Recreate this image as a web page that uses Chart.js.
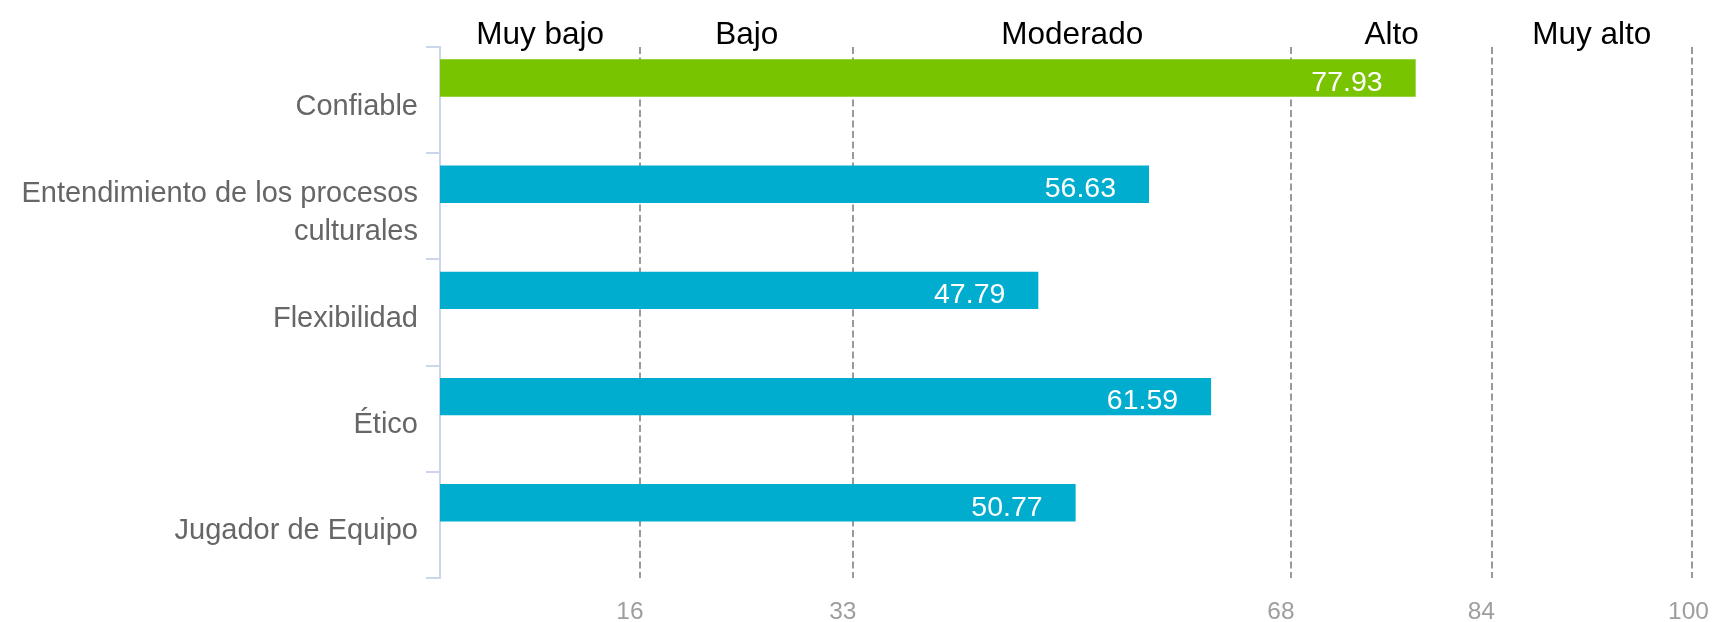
<!DOCTYPE html>
<html lang="es">
<head>
<meta charset="utf-8">
<title>Competencias</title>
<script src="https://cdn.jsdelivr.net/npm/chart.js@4"></script>
<style>
    html, body { margin: 0; padding: 0; background: #fff; overflow: hidden; }
    #wrap { width: 1719px; height: 622px; }
</style>
</head>
<body>
<div id="wrap"><canvas id="chartComp" width="1719" height="622"></canvas></div>
<script>
const CATEGORIAS = [
    'Confiable',
    ['Entendimiento de los procesos', 'culturales'],
    'Flexibilidad',
    'Ético',
    'Jugador de Equipo',
];
const PUNTAJES = [77.93, 56.63, 47.79, 61.59, 50.77];
const SERIE_VACIA = [null, null, null, null, null];

const CORTES = [0, 16, 33, 68, 84, 100];
const NIVELES = ['Muy bajo', 'Bajo', 'Moderado', 'Alto', 'Muy alto'];

const VERDE = '#79c400';
const AZUL = '#00adce';
const FONT = "'Liberation Sans', Arial, Helvetica, sans-serif";

Chart.defaults.font.family = FONT;

// centro de cada franja para los nombres de nivel
const centros = NIVELES.map((_, i) => (CORTES[i] + CORTES[i + 1]) / 2);

const etiquetasBarra = {
    id: 'etiquetasBarra',
    afterDatasetsDraw(chart) {
        const { ctx } = chart;
        const meta = chart.getDatasetMeta(0);
        ctx.save();
        ctx.fillStyle = '#ffffff';
        ctx.font = `28.5px ${FONT}`;
        ctx.textAlign = 'right';
        ctx.textBaseline = 'middle';
        meta.data.forEach((bar, i) => {
            ctx.fillText(PUNTAJES[i].toFixed(2), bar.x - 33, bar.y + 5);
        });
        ctx.restore();
    },
};

// nombres de nivel encima del area, centrados en cada franja
const nivelesArriba = {
    id: 'nivelesArriba',
    afterDraw(chart) {
        const { ctx, chartArea } = chart;
        const x = chart.scales.x;
        ctx.save();
        ctx.fillStyle = '#000000';
        ctx.font = `31.5px ${FONT}`;
        ctx.textAlign = 'center';
        ctx.textBaseline = 'alphabetic';
        NIVELES.forEach((n, i) => {
            ctx.fillText(n, x.getPixelForValue(centros[i]), chartArea.top - 3);
        });
        ctx.restore();
    },
};

new Chart(document.getElementById('chartComp'), {
    type: 'bar',
    data: {
        labels: CATEGORIAS,
        datasets: [
            {
                data: PUNTAJES,
                backgroundColor: PUNTAJES.map((_, i) => i === 0 ? VERDE : AZUL),
                borderWidth: 0,
                categoryPercentage: 0.832,
                barPercentage: 0.846,
            },
            {
                data: SERIE_VACIA,
                backgroundColor: AZUL,
                categoryPercentage: 0.832,
                barPercentage: 0.846,
            },
        ],
    },
    options: {
        indexAxis: 'y',
        responsive: false,
        animation: false,
        layout: { padding: { top: 47, right: 27, bottom: 0, left: 0 } },
        plugins: { legend: { display: false }, tooltip: { enabled: false } },
        scales: {
            x: {
                type: 'linear',
                position: 'bottom',
                min: 0,
                max: 100,
                afterBuildTicks: axis => { axis.ticks = CORTES.slice(1).map(v => ({ value: v })); },
                afterFit: axis => { axis.height = 44; axis.paddingLeft = 0; axis.paddingRight = 0; },
                grid: { color: '#9a9a9a', lineWidth: 2, drawTicks: false },
                border: { display: false, dash: [7, 3.5] },
                ticks: {
                    color: '#9e9e9e',
                    font: { size: 24.5 },
                    align: 'start',
                    labelOffset: -24,
                    padding: 20,
                    autoSkip: false,
                    maxRotation: 0,
                },
            },
            y: {
                position: 'left',
                afterFit: axis => { axis.width = 440; axis.paddingTop = 0; axis.paddingBottom = 0; },
                grid: {
                    offset: true,
                    drawOnChartArea: false,
                    drawTicks: true,
                    tickLength: 14,
                    color: '#ccd6eb',
                    lineWidth: 2,
                },
                border: { display: true, color: '#ccd6eb', width: 2 },
                ticks: {
                    color: '#666666',
                    font: { size: 29, lineHeight: 1.31 },
                    padding: 8,
                    labelOffset: 6.5,
                    autoSkip: false,
                },
            },
        },
    },
    plugins: [etiquetasBarra, nivelesArriba],
});
</script>
</body>
</html>
